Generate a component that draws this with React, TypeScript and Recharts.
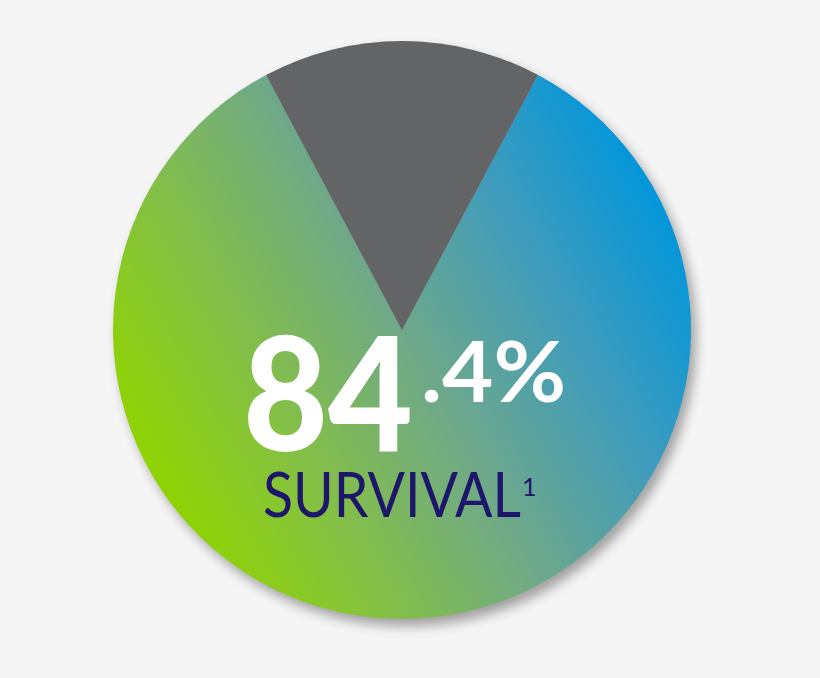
import React from 'react';
import { PieChart, Pie, Cell } from 'recharts';

const categories = ['Survival', 'Other'];
const values = [84.4, 15.6];
const bigLabel = '84';
const smallLabel = '.4%';
const caption = 'SURVIVAL';
const footnote = '1';

const data = categories.map((name, i) => ({ name, value: values[i] }));

const W = 820;
const H = 678;
const CX = 402;
const CY = 330;
const R = 289;
const otherShare = values[1] / (values[0] + values[1]);
const START = 90 - (otherShare * 360) / 2;
const FONT = "Lato, 'Open Sans', sans-serif";

export default function App() {
  return (
    <div style={{ position: 'absolute', left: 0, top: 0, width: W, height: H, background: '#f5f5f5' }}>
      <style>{`.recharts-pie { filter: drop-shadow(5px 7px 6px rgba(0,0,0,0.35)); }`}</style>
      <svg width={0} height={0} style={{ position: 'absolute' }}>
        <defs>
          <linearGradient id="survGrad" gradientUnits="userSpaceOnUse" x1={140} y1={460} x2={655} y2={175}>
            <stop offset="0%" stopColor="#8fd400" />
            <stop offset="25%" stopColor="#84bf48" />
            <stop offset="50%" stopColor="#6ea88a" />
            <stop offset="75%" stopColor="#3f9cbc" />
            <stop offset="100%" stopColor="#0096dc" />
          </linearGradient>
        </defs>
      </svg>
      <PieChart width={W} height={H} margin={{ top: 0, right: 0, bottom: 0, left: 0 }}>
        <Pie
          data={data}
          dataKey="value"
          nameKey="name"
          cx={CX}
          cy={CY}
          innerRadius={0}
          outerRadius={R}
          startAngle={START}
          endAngle={START - 360}
          stroke="none"
          isAnimationActive={false}
        >
          <Cell fill="url(#survGrad)" />
          <Cell fill="#636466" />
        </Pie>
      </PieChart>
      <svg width={W} height={H} style={{ position: 'absolute', left: 0, top: 0, pointerEvents: 'none' }}>
        <text x={243} y={451} fill="#ffffff" fontFamily={FONT} fontWeight={900} fontSize={158} textLength={170} lengthAdjust="spacingAndGlyphs">{bigLabel}</text>
        <text x={421} y={402} fill="#ffffff" fontFamily={FONT} fontWeight={700} fontSize={84} textLength={145} lengthAdjust="spacingAndGlyphs">{smallLabel}</text>
        <text x={263} y={517} fill="#1d166a" fontFamily={FONT} fontWeight={400} fontSize={62} textLength={258} lengthAdjust="spacingAndGlyphs">{caption}</text>
        <text x={522} y={496} fill="#1d166a" fontFamily={FONT} fontWeight={400} fontSize={25}>{footnote}</text>
      </svg>
    </div>
  );
}
